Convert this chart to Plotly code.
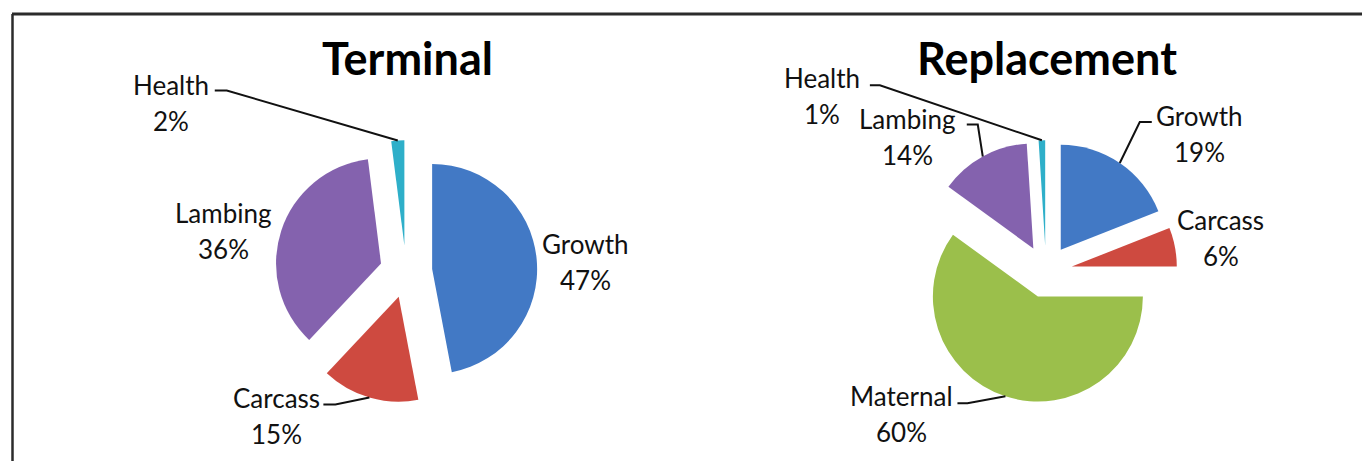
import math
import plotly.graph_objects as go

W, H = 1362, 461

# ---- data -------------------------------------------------------------
chart_titles = ["Terminal", "Replacement"]

terminal_labels = ["Growth", "Carcass", "Lambing", "Health"]
terminal_values = [47, 15, 36, 2]

replacement_labels = ["Growth", "Carcass", "Maternal", "Lambing", "Health"]
replacement_values = [19, 6, 60, 14, 1]

# ---- style ------------------------------------------------------------
slice_colors = {
    "Growth": "#4279C5",
    "Carcass": "#CE4A40",
    "Maternal": "#9BBF4B",
    "Lambing": "#8462AE",
    "Health": "#2EAFC9",
}
PULL = 0.25
FONT = "Lato, 'Open Sans', sans-serif"
LABEL_SIZE = 26
TITLE_SIZE = 45
LINE_GAP = 36          # px between category name and percentage
INK = "#111111"

# pie boxes in pixels: centre x, centre y, box width, box height
pie_boxes = [(406, 271.5, 300, 262.5), (1046, 271.5, 300, 262.5)]
title_y_px = 58

# label placement relative to the slice's outer arc point (px),
# optional leader: start offset from label centre and elbow length
label_style = [
    {
        "Growth": {"text": (49, -15), "leader": None},
        "Carcass": {"text": (-93, 0), "leader": (47, 7, 12)},
        "Lambing": {"text": (-58, -18), "leader": None},
        "Health": {"text": (-227, -56), "leader": (44, 6, 12)},
    },
    {
        "Growth": {"text": (80, -47), "leader": (-48, 6, -12)},
        "Carcass": {"text": (46, -27), "leader": None},
        "Maternal": {"text": (-104, 0), "leader": (56, 7, 10)},
        "Lambing": {"text": (-75, -37), "leader": (59, 5, 11)},
        "Health": {"text": (-220, -62), "leader": (48, 7, 10)},
    },
]


def px_to_paper(x, y):
    return x / W, 1 - y / H


fig = go.Figure()
annotations = []
shapes = []

series = [(terminal_labels, terminal_values), (replacement_labels, replacement_values)]

for idx, ((labels, values), (cx, cy, bw, bh)) in enumerate(zip(series, pie_boxes)):
    x0, _ = px_to_paper(cx - bw / 2, 0)
    x1, _ = px_to_paper(cx + bw / 2, 0)
    _, y1 = px_to_paper(0, cy - bh / 2)
    _, y0 = px_to_paper(0, cy + bh / 2)
    fig.add_trace(go.Pie(
        labels=labels,
        values=values,
        sort=False,
        direction="clockwise",
        rotation=0,
        pull=[PULL] * len(values),
        marker=dict(colors=[slice_colors[l] for l in labels], line=dict(width=0)),
        textinfo="none",
        hoverinfo="label+percent",
        showlegend=False,
        domain=dict(x=[x0, x1], y=[y0, y1]),
    ))

    # same geometry plotly uses for the pie radius
    r = min(bw, bh) / (2 + 2 * PULL)
    total = float(sum(values))
    cum = 0.0
    for lab, val in zip(labels, values):
        a0 = cum / total * 360
        a1 = (cum + val) / total * 360
        cum += val
        mid = math.radians((a0 + a1) / 2)
        ux, uy = math.sin(mid), -math.cos(mid)
        ax_px = cx + (1 + PULL) * r * ux
        ay_px = cy + (1 + PULL) * r * uy

        st = label_style[idx][lab]
        tx = ax_px + st["text"][0]
        ty = ay_px + st["text"][1]
        pct = round(val / total * 100)
        for k, txt in enumerate([lab, f"{pct}%"]):
            px, py = px_to_paper(tx, ty + k * LINE_GAP)
            annotations.append(dict(
                x=px, y=py, xref="paper", yref="paper",
                text=txt, showarrow=False,
                xanchor="center", yanchor="middle",
                font=dict(family=FONT, size=LABEL_SIZE, color=INK),
            ))

        if st["leader"]:
            sx, sy, el = st["leader"]
            p0 = px_to_paper(tx + sx, ty + sy)
            p1 = px_to_paper(tx + sx + el, ty + sy)
            p2 = px_to_paper(ax_px, ay_px)
            shapes.append(dict(
                type="path", xref="paper", yref="paper",
                path=f"M {p0[0]},{p0[1]} L {p1[0]},{p1[1]} L {p2[0]},{p2[1]}",
                line=dict(color=INK, width=2),
            ))

    # chart title
    tpx, tpy = px_to_paper(cx + 1, title_y_px)
    annotations.append(dict(
        x=tpx, y=tpy, xref="paper", yref="paper",
        text=f"<b>{chart_titles[idx]}</b>", showarrow=False,
        xanchor="center", yanchor="middle",
        font=dict(family=FONT, size=TITLE_SIZE, color="#000000"),
    ))

# frame lines along the top and left edge
top_x0, top_y = px_to_paper(12, 14)
left_x, bottom_y = px_to_paper(12.5, H)
shapes.append(dict(type="line", xref="paper", yref="paper",
                   x0=top_x0, x1=1, y0=top_y, y1=top_y,
                   line=dict(color="#2b2b2b", width=3)))
shapes.append(dict(type="line", xref="paper", yref="paper",
                   x0=left_x, x1=left_x, y0=bottom_y, y1=top_y,
                   line=dict(color="#2b2b2b", width=2.5)))

fig.update_layout(
    width=W, height=H,
    margin=dict(l=0, r=0, t=0, b=0),
    paper_bgcolor="white",
    plot_bgcolor="white",
    annotations=annotations,
    shapes=shapes,
)

fig.write_html("out.html")
